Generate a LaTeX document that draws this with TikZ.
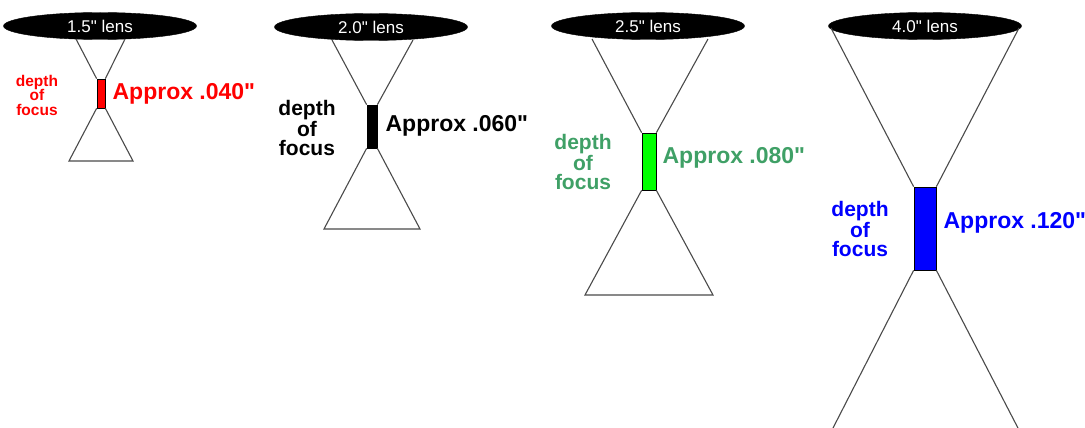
\documentclass[tikz,border=0pt]{standalone}
\usepackage{fontspec}
\setmainfont{Liberation Sans}
\usetikzlibrary{shapes.geometric, positioning}
\definecolor{dofred}{HTML}{FF0000}
\definecolor{dofgreen}{HTML}{3FA066}
\definecolor{dofbright}{HTML}{00FF00}
\definecolor{dofblue}{HTML}{0000FF}
\definecolor{beamgray}{HTML}{4A4A4A}

\begin{document}
\begin{tikzpicture}[
    x=1pt, y=-1pt,
    lens/.style={ellipse, fill=black, draw=black, inner sep=0pt, minimum width=193pt, minimum height=27pt, text=white, font=\fontsize{17}{17}\selectfont},
    focusbar/.style={rectangle, draw=black, thick, inner sep=0pt},
    beam/.style={draw=beamgray, line width=1.1pt},
    approx/.style={inner sep=0pt, font=\bfseries\fontsize{23}{23}\selectfont, anchor=west},
    focustext/.style={inner sep=0pt, align=center, font=\bfseries\fontsize{21}{19}\selectfont},
    node distance=7pt
]
\useasboundingbox (0,0) rectangle (1085,428);

% Lenses
\node[lens] (lens1) at (100,26) {1.5\textquotedbl{} lens};
\node[lens] (lens2) at (371,27) {2.0\textquotedbl{} lens};
\node[lens] (lens3) at (648,26) {2.5\textquotedbl{} lens};
\node[lens] (lens4) at (925,26) {4.0\textquotedbl{} lens};

% Depth of focus bars
\node[focusbar, fill=dofred, minimum width=8pt, minimum height=29pt] (dof1) at (101,93.5) {};
\node[focusbar, fill=black, minimum width=10pt, minimum height=43pt] (dof2) at (372,126.5) {};
\node[focusbar, fill=dofbright, minimum width=14pt, minimum height=57pt] (dof3) at (649,161.5) {};
\node[focusbar, fill=dofblue, minimum width=22pt, minimum height=83pt] (dof4) at (925,228.5) {};

% Beam ends
\coordinate (top1l) at (76,39);
\coordinate (top1r) at (125,39);
\coordinate (bot1l) at (69,161);
\coordinate (bot1r) at (133,161);
\coordinate (top2l) at (332,40);
\coordinate (top2r) at (413,40);
\coordinate (bot2l) at (324,229);
\coordinate (bot2r) at (420,229);
\coordinate (top3l) at (592,39);
\coordinate (top3r) at (708,39);
\coordinate (bot3l) at (585,295);
\coordinate (bot3r) at (713,295);
\coordinate (top4l) at (831,28);
\coordinate (top4r) at (1019,28);
\coordinate (bot4l) at (832,430);
\coordinate (bot4r) at (1019,430);

% Beams
\draw[beam] (top1l) -- (dof1.north west);
\draw[beam] (top1r) -- (dof1.north east);
\draw[beam] (dof1.south west) -- (bot1l) -- (bot1r) -- (dof1.south east);
\draw[beam] (top2l) -- (dof2.north west);
\draw[beam] (top2r) -- (dof2.north east);
\draw[beam] (dof2.south west) -- (bot2l) -- (bot2r) -- (dof2.south east);
\draw[beam] (top3l) -- (dof3.north west);
\draw[beam] (top3r) -- (dof3.north east);
\draw[beam] (dof3.south west) -- (bot3l) -- (bot3r) -- (dof3.south east);
\draw[beam] (top4l) -- (dof4.north west);
\draw[beam] (top4r) -- (dof4.north east);
\draw[beam] (dof4.south west) -- (bot4l);
\draw[beam] (dof4.south east) -- (bot4r);

% Labels
\node[approx, text=dofred, right=of dof1.east, anchor=west] (approx1) {Approx .040\textquotedbl};
\node[approx, text=black, right=8pt of dof2.east, anchor=west, yshift=1pt] (approx2) {Approx .060\textquotedbl};
\node[approx, text=dofgreen, right=6pt of dof3.east, anchor=west, yshift=4pt] (approx3) {Approx .080\textquotedbl};
\node[approx, text=dofblue, right=of dof4.east, anchor=west, yshift=6pt] (approx4) {Approx .120\textquotedbl};

\node[focustext, text=dofred, font=\bfseries\fontsize{15.5}{14.5}\selectfont] (focus1) at (37,95) {depth\\of\\focus};
\node[focustext, text=black] (focus2) at (307,128) {depth\\of\\focus};
\node[focustext, text=dofgreen] (focus3) at (583,162) {depth\\of\\focus};
\node[focustext, text=dofblue] (focus4) at (860,229) {depth\\of\\focus};

\end{tikzpicture}
\end{document}
